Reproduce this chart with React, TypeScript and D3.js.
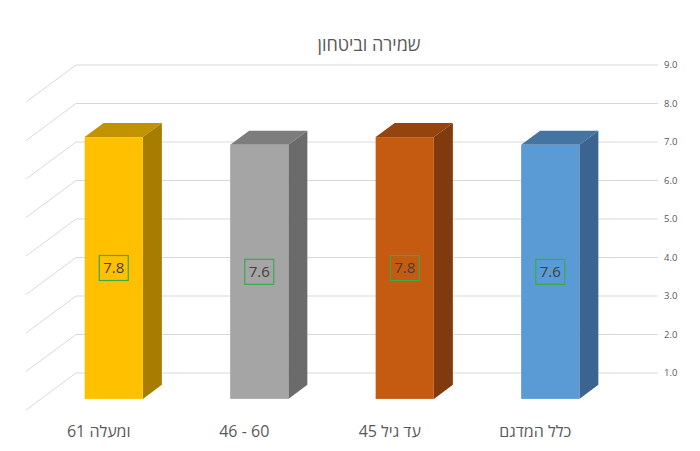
import React from 'react';
import * as d3 from 'd3';

// categories drawn left-to-right
const categories = ['61 ומעלה', '46 - 60', 'עד גיל 45', 'כלל המדגם'];
const values = [7.8, 7.6, 7.8, 7.6];
const frontColors = ['#FFC000', '#A5A5A5', '#C55A11', '#5B9BD5'];
const sideColors = ['#A67D00', '#6B6B6B', '#803A0B', '#3B6590'];
const topColors = ['#C29200', '#7D7D7D', '#96440D', '#44749F'];
const yTicks = [1, 2, 3, 4, 5, 6, 7, 8, 9];
const title = 'שמירה וביטחון';

const width = 700;
const height = 451;
const font = '"Open Sans", "DejaVu Sans", sans-serif';

// depth vector from back wall to front edge of floor
const depthX = -50;
const depthY = 37;
const barFront = 0.7;
const barBack = 0.32;

const App: React.FC = () => {
  const x = d3.scaleBand<string>().domain(categories).range([76, 658]).paddingInner(0.6).paddingOuter(0.3);
  const y = d3.scaleLinear().domain([1, 9]).range([373, 65]);
  const fmt = d3.format('.1f');

  const pt = (px: number, v: number, f: number): [number, number] => [px + depthX * f, y(v) + depthY * f];
  const poly = (pts: [number, number][]) => pts.map((p) => p.join(',')).join(' ');

  const bw = x.bandwidth();

  return (
    <svg width={width} height={height} style={{ position: 'absolute', left: 0, top: 0, background: '#fff' }}>
      {/* back wall grid + side wall diagonals */}
      {yTicks.map((t) => (
        <g key={t}>
          <line x1={76} x2={658} y1={y(t)} y2={y(t)} stroke="#D9D9D9" strokeWidth={1} />
          <line x1={76} y1={y(t)} x2={76 + depthX} y2={y(t) + depthY} stroke="#D9D9D9" strokeWidth={1} />
          <text x={664} y={y(t)} dy="0.35em" fontSize={9.5} fill="#595959" fontFamily={font}>
            {fmt(t)}
          </text>
        </g>
      ))}

      {categories.map((c, i) => {
        const x0 = x(c) as number;
        const x1 = x0 + bw;
        const v = values[i];
        const ftl = pt(x0, v, barFront);
        const ftr = pt(x1, v, barFront);
        const fbr = pt(x1, 1, barFront);
        const btl = pt(x0, v, barBack);
        const btr = pt(x1, v, barBack);
        const bbr = pt(x1, 1, barBack);
        const cx = (ftl[0] + ftr[0]) / 2;
        const cy = (ftl[1] + fbr[1]) / 2;
        return (
          <g key={c}>
            <polygon points={poly([ftl, ftr, btr, btl])} fill={topColors[i]} />
            <polygon points={poly([ftr, btr, bbr, fbr])} fill={sideColors[i]} />
            <rect x={ftl[0]} y={ftl[1]} width={bw} height={fbr[1] - ftl[1]} fill={frontColors[i]} />
            <rect x={cx - 14.5} y={cy - 12.5} width={29} height={25} fill="none" stroke="#3AAA4E" strokeWidth={1.2} />
            <text x={cx} y={cy} dy="0.36em" textAnchor="middle" fontSize={15} fill="#404040" fontFamily={font}>
              {fmt(v)}
            </text>
            <text x={x0 + bw / 2 + depthX} y={437} textAnchor="middle" fontSize={16} fill="#595959" fontFamily={font}>
              {c}
            </text>
          </g>
        );
      })}

      <text x={369} y={51} textAnchor="middle" fontSize={18} fill="#595959" fontFamily={font}>
        {title}
      </text>
    </svg>
  );
};

export default App;
